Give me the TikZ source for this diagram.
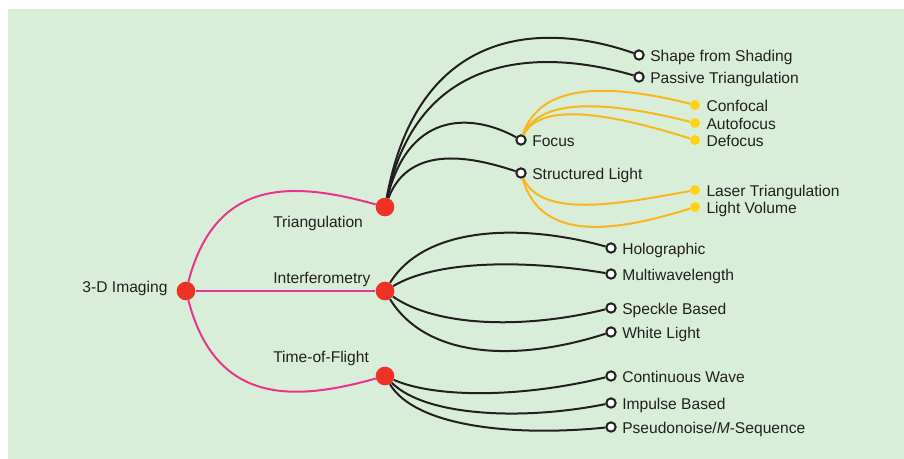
\documentclass[tikz,border=0pt]{standalone}
\usepackage{fontspec}
\setmainfont{Liberation Sans}
\usepackage{xcolor}
\usepackage{tikz}
\usetikzlibrary{positioning}
\definecolor{bggreen}{RGB}{217,238,217}
\definecolor{dotred}{RGB}{238,50,36}
\definecolor{linkpink}{RGB}{232,52,140}
\definecolor{linkyellow}{RGB}{249,182,30}
\definecolor{dotyellow}{RGB}{255,210,20}
\definecolor{inkgray}{RGB}{35,31,32}
\tikzset{bigdot/.style={circle,fill=dotred,minimum size=14pt,inner sep=0pt}}
\tikzset{leaf/.style={circle,draw=inkgray,fill=white,line width=1.5pt,minimum size=7pt,inner sep=0pt}}
\tikzset{ydot/.style={circle,fill=dotyellow,minimum size=7.5pt,inner sep=0pt}}
\tikzset{txt/.style={text=inkgray,font=\fontsize{11.7}{14}\selectfont,inner sep=0pt,text height=8.8pt,text depth=2.3pt}}
\tikzset{leaftxt/.style={txt,yshift=-2pt}}
\tikzset{pinkline/.style={draw=linkpink,line width=1.5pt}}
\tikzset{blackline/.style={draw=inkgray,line width=1.5pt}}
\tikzset{yellowline/.style={draw=linkyellow,line width=1.5pt}}

\begin{document}
\begin{tikzpicture}[x=0.75pt,y=0.75pt]
	\useasboundingbox (0,0) rectangle (904,-459);
	\fill [bggreen] (8,-9) rectangle (904,-459);
	% main branches
	\node[bigdot] (root) at (186,-291) {};
	\node[bigdot] (tri) at (385,-207) {};
	\node[bigdot] (inter) at (385,-291) {};
	\node[bigdot] (tof) at (385,-376) {};
	\node[txt, left=6.5pt of root, yshift=2.2pt] (root-t) {3-D Imaging};
	\node[txt, anchor=west] (tri-t) at (273,-223) {Triangulation};
	\node[txt, anchor=west] (inter-t) at (273,-279) {Interferometry};
	\node[txt, anchor=west] (tof-t) at (273,-358) {Time-of-Flight};
	\draw [pinkline] (root) .. controls +(30,115) and +(-90,25) .. (tri);
	\draw [pinkline] (root) -- (inter);
	\draw [pinkline] (root) .. controls +(30,-115) and +(-90,-25) .. (tof);
	% triangulation
	\node[leaf] (shading) at (639,-55) {};
	\node[leaf] (passive) at (639,-77) {};
	\node[leaf] (focus) at (521,-140) {};
	\node[leaf] (structured) at (521,-173) {};
	\node[leaftxt, right=4pt of shading] (shading-t) {Shape from Shading};
	\node[leaftxt, right=4pt of passive] (passive-t) {Passive Triangulation};
	\node[leaftxt, right=4pt of focus] (focus-t) {Focus};
	\node[leaftxt, right=4pt of structured] (structured-t) {Structured Light};
	\draw [blackline] (tri) .. controls +(35,190) and +(-85,30) .. (shading);
	\draw [blackline] (tri) .. controls +(35,165) and +(-85,25) .. (passive);
	\draw [blackline] (tri) .. controls +(25,100) and +(-45,25) .. (focus);
	\draw [blackline] (tri) .. controls +(25,65) and +(-45,15) .. (structured);
	% focus and structured light
	\node[ydot] (confocal) at (695,-105) {};
	\node[ydot] (autofocus) at (695,-123) {};
	\node[ydot] (defocus) at (695,-140) {};
	\node[ydot] (lasertri) at (695,-190) {};
	\node[ydot] (lightvol) at (695,-207) {};
	\node[leaftxt, right=4.5pt of confocal] (confocal-t) {Confocal};
	\node[leaftxt, right=4.5pt of autofocus] (autofocus-t) {Autofocus};
	\node[leaftxt, right=4.5pt of defocus] (defocus-t) {Defocus};
	\node[leaftxt, right=4.5pt of lasertri] (lasertri-t) {Laser Triangulation};
	\node[leaftxt, right=4.5pt of lightvol] (lightvol-t) {Light Volume};
	\draw [yellowline] (focus) .. controls +(20,60) and +(-80,20) .. (confocal);
	\draw [yellowline] (focus) .. controls +(20,45) and +(-80,20) .. (autofocus);
	\draw [yellowline] (focus) .. controls +(20,40) and +(-80,25) .. (defocus);
	\draw [yellowline] (structured) .. controls +(20,-45) and +(-80,-15) .. (lasertri);
	\draw [yellowline] (structured) .. controls +(20,-70) and +(-80,-25) .. (lightvol);
	% interferometry
	\node[leaf] (holo) at (611,-248) {};
	\node[leaf] (multi) at (611,-274) {};
	\node[leaf] (speckle) at (611,-308) {};
	\node[leaf] (white) at (611,-332) {};
	\node[leaftxt, right=4pt of holo] (holo-t) {Holographic};
	\node[leaftxt, right=4pt of multi] (multi-t) {Multiwavelength};
	\node[leaftxt, right=4pt of speckle] (speckle-t) {Speckle Based};
	\node[leaftxt, right=4pt of white] (white-t) {White Light};
	\draw [blackline] (inter) .. controls +(40,65) and +(-90,25) .. (holo);
	\draw [blackline] (inter) .. controls +(50,30) and +(-90,15) .. (multi);
	\draw [blackline] (inter) .. controls +(50,-35) and +(-90,-22) .. (speckle);
	\draw [blackline] (inter) .. controls +(40,-65) and +(-100,-32) .. (white);
	% time of flight
	\node[leaf] (cw) at (611,-376) {};
	\node[leaf] (impulse) at (611,-403) {};
	\node[leaf] (pseudo) at (611,-427) {};
	\node[leaftxt, right=4pt of cw] (cw-t) {Continuous Wave};
	\node[leaftxt, right=4pt of impulse] (impulse-t) {Impulse Based};
	\node[leaftxt, right=4pt of pseudo] (pseudo-t) {Pseudonoise/\textit{M}-Sequence};
	\draw [blackline] (tof) .. controls +(50,-22) and +(-90,-22) .. (cw);
	\draw [blackline] (tof) .. controls +(40,-40) and +(-90,-18) .. (impulse);
	\draw [blackline] (tof) .. controls +(30,-50) and +(-100,-10) .. (pseudo);
\end{tikzpicture}
\end{document}
